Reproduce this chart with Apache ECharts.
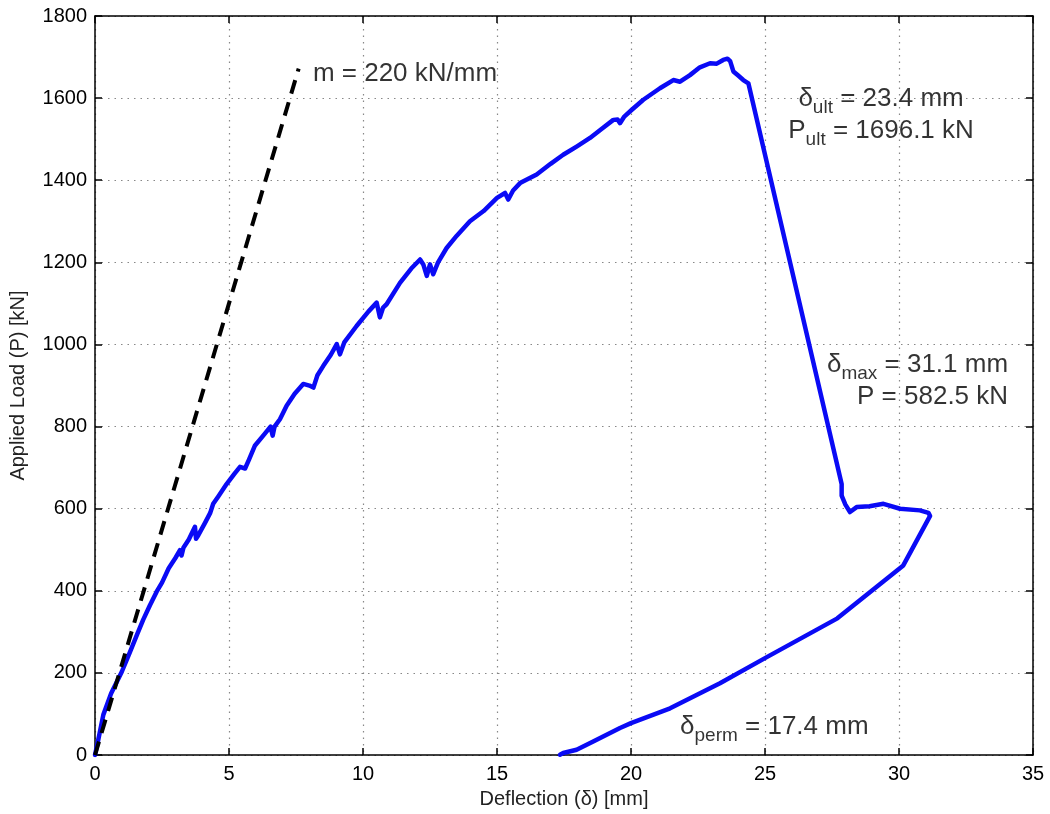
<!DOCTYPE html>
<html>
<head>
<meta charset="utf-8">
<script src="https://cdn.jsdelivr.net/npm/echarts@6/dist/echarts.min.js"></script>
<style>
html,body{margin:0;padding:0;background:#fff;}
#chart{width:1050px;height:814px;}
</style>
</head>
<body>
<div id="chart"></div>
<script>
// ---- Data ----
const xTicks = [0, 5, 10, 15, 20, 25, 30, 35];
const yTicks = [0, 200, 400, 600, 800, 1000, 1200, 1400, 1600, 1800];

// Measured load-deflection curve [deflection mm, load kN]
const deflection = [0,0.1,0.31,0.6,1.0,1.3,1.56,1.8,2.05,2.3,2.5,2.75,3.0,3.17,3.23,3.3,3.5,3.73,3.77,3.85,4.1,4.3,4.41,4.6,4.91,5.2,5.41,5.6,5.75,5.97,6.3,6.55,6.63,6.7,6.9,7.15,7.45,7.77,8.0,8.15,8.3,8.52,8.8,9.02,9.14,9.3,9.76,10.2,10.51,10.63,10.75,10.88,11.38,11.8,12.13,12.25,12.38,12.5,12.62,12.8,13.12,13.5,13.99,14.5,15.0,15.3,15.42,15.6,15.86,16.48,17.0,17.47,17.97,18.47,18.9,19.34,19.5,19.59,19.75,20.02,20.46,21.08,21.58,21.83,22.2,22.57,22.95,23.2,23.44,23.6,23.7,23.82,24.0,24.19,24.38,27.86,27.86,28.0,28.17,28.42,28.9,29.42,30.04,30.78,31.1,31.16,30.16,27.7,25.05,23.32,21.46,20.0,19.59,18.59,17.97,17.47,17.35];
const load = [0,30,98,150,203,250,292,330,365,398,420,455,480,499,486,505,525,556,527,535,565,590,612,630,660,685,702,698,720,754,780,800,778,800,818,851,880,904,900,895,925,948,975,1001,976,1005,1045,1080,1102,1066,1090,1098,1150,1185,1207,1195,1167,1195,1171,1200,1235,1265,1300,1325,1357,1369,1353,1375,1393,1414,1440,1462,1482,1503,1525,1547,1548,1539,1555,1571,1596,1624,1644,1640,1656,1675,1685,1684,1693,1696,1690,1665,1655,1644,1636,660,632,610,592,604,606,612,600,596,590,582.5,462,333,238,175,114,78,66,33,13,5,1];

// Initial stiffness line m = 220 kN/mm
const stiffX = [0, 7.6];
const stiffY = [0, 1672];

// Annotation anchors (data coords)
const noteM = [8.13, 1652];
const noteUlt = [29.33, 1553];
const noteMax = [34.07, 905];
const notePerm = [21.83, 62];

// ---- Chart ----
const FONT = '"Liberation Sans", Arial, Helvetica, sans-serif';
const curve = deflection.map(function(d, i){ return [d, load[i]]; });
const stiff = stiffX.map(function(d, i){ return [d, stiffY[i]]; });

const rich = {
  a: {fontSize: 26, fontFamily: FONT, color: '#000', padding: [0,0,6,0]},
  s: {fontSize: 19, fontFamily: FONT, color: '#000', verticalAlign: 'bottom'}
};

function noteItem(pt, text, pos, align){
  return {
    value: pt,
    label: {show: true, position: pos, distance: 0, align: align, color: '#000',
      textBorderWidth: 0, formatter: text, rich: rich}
  };
}

const chart = echarts.init(document.getElementById('chart'), null, {renderer: 'canvas'});
const axisCommon = {
  type: 'value',
  axisLine: {show: true, onZero: false, lineStyle: {color: '#000', width: 1.5}},
  axisTick: {show: true, inside: true, length: 7, lineStyle: {color: '#000', width: 1.5}},
};
chart.setOption({
  animation: false,
  backgroundColor: '#fff',
  grid: {left: 95, right: 17, top: 16, bottom: 57, containLabel: false},
  xAxis: [
    Object.assign({}, axisCommon, {
      min: 0, max: 35, interval: 5, position: 'bottom',
      name: 'Deflection (δ) [mm]', nameLocation: 'middle', nameGap: 31,
      nameTextStyle: {fontSize: 20, fontFamily: FONT, color: '#222'},
      axisLabel: {fontSize: 20, fontFamily: FONT, color: '#000', margin: 9,
        formatter: function(v){ return xTicks.indexOf(v) >= 0 ? String(v) : ''; }},
      splitLine: {show: true, lineStyle: {color: '#888', width: 1.2, type: [1.5, 5]}}
    }),
    Object.assign({}, axisCommon, {
      min: 0, max: 35, interval: 5, position: 'top',
      axisLabel: {show: false}, splitLine: {show: false}
    })
  ],
  yAxis: [
    Object.assign({}, axisCommon, {
      min: 0, max: 1800, interval: 200, position: 'left',
      name: 'Applied Load (P) [kN]', nameLocation: 'middle', nameGap: 67,
      nameTextStyle: {fontSize: 20, fontFamily: FONT, color: '#222'},
      axisLabel: {fontSize: 20, fontFamily: FONT, color: '#000', margin: 8,
        formatter: function(v){ return yTicks.indexOf(v) >= 0 ? String(v) : ''; }},
      splitLine: {show: true, lineStyle: {color: '#888', width: 1.2, type: [1.5, 5]}}
    }),
    Object.assign({}, axisCommon, {
      min: 0, max: 1800, interval: 200, position: 'right',
      axisLabel: {show: false}, splitLine: {show: false}
    })
  ],
  series: [
    {
      type: 'line', data: curve, showSymbol: false, symbol: 'none', smooth: false,
      lineStyle: {color: '#0a0af5', width: 4.5, join: 'round', cap: 'round'}, z: 3
    },
    {
      type: 'line', data: stiff, showSymbol: false, symbol: 'none',
      lineStyle: {color: '#000', width: 4, type: [14, 9]}, z: 4
    },
    {
      type: 'scatter', symbolSize: 0, silent: true, z: 5,
      data: [
        noteItem(noteM, '{a|m = 220 kN/mm}', 'right', 'left'),
        noteItem(noteUlt, '{a|δ}{s|ult}{a| = 23.4 mm}\n{a|P}{s|ult}{a| = 1696.1 kN}', 'inside', 'center'),
        noteItem(noteMax, '{a|δ}{s|max}{a| = 31.1 mm}\n{a|P = 582.5 kN}', 'left', 'right'),
        noteItem(notePerm, '{a|δ}{s|perm}{a| = 17.4 mm}', 'right', 'left')
      ]
    }
  ]
});
</script>
</body>
</html>
